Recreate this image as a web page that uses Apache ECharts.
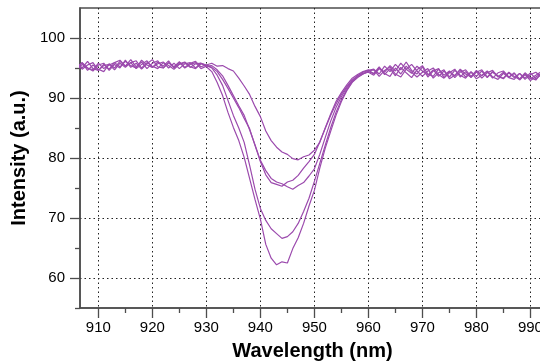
<!DOCTYPE html>
<html>
<head>
<meta charset="utf-8">
<script src="https://cdn.jsdelivr.net/npm/echarts@6/dist/echarts.min.js"></script>
<style>html,body{margin:0;padding:0;background:#fff;}#c{width:540px;height:362px;}</style>
</head>
<body>
<div id="c"></div>
<script>
const wavelength = [906,907,908,909,910,911,912,913,914,915,916,917,918,919,920,921,922,923,924,925,926,927,928,929,
930,931,932,933,934,935,936,937,938,939,940,941,942,943,944,945,946,947,948,949,950,951,952,953,954,955,956,957,958,959,960,
961,962,963,964,965,966,967,968,969,970,971,972,973,974,975,976,977,978,979,980,981,982,983,984,985,986,987,988,989,990,991,992];

const spectrumA = [95.9,95.0,96.1,94.9,94.6,95.6,94.8,95.9,96.3,95.3,96.4,95.2,96.0,94.9,95.8,96.2,95.0,95.9,95.2,96.0,95.1,95.8,96.1,95.2,
95.5,95.8,95.3,95.4,94.9,94.5,93.3,92.0,90.6,88.6,86.9,84.5,82.9,81.8,81.0,80.6,79.9,79.7,80.2,80.5,81.3,82.6,85.0,87.3,89.4,90.9,92.2,93.3,93.9,94.4,94.7,
94.0,95.0,94.3,95.4,94.5,95.8,94.8,94.1,95.3,94.5,93.8,94.7,93.6,94.5,93.5,94.6,93.8,93.3,94.4,93.6,94.5,93.4,94.3,93.6,93.2,94.2,93.4,94.1,93.1,93.9,94.3,93.5];

const spectrumB = [95.0,95.9,94.6,95.5,94.8,94.4,95.7,95.0,96.1,95.3,95.9,94.9,95.6,96.2,95.1,95.7,96.0,95.0,95.8,94.9,95.7,95.9,95.0,95.8,
95.4,95.1,94.4,93.1,91.6,90.0,88.4,86.6,84.9,82.1,79.4,77.2,75.9,75.6,75.3,76.0,76.3,77.1,78.3,79.4,80.6,82.7,84.9,87.1,89.0,90.6,91.9,93.0,93.7,94.3,94.6,
94.8,94.0,95.3,94.4,95.6,94.7,96.0,94.6,94.0,95.2,93.5,94.5,94.9,93.4,94.4,93.7,94.8,94.0,93.5,94.6,93.7,94.4,93.3,94.2,94.5,93.5,94.1,93.2,94.2,93.4,93.0,94.1];

const spectrumC = [94.6,95.6,95.0,94.5,95.5,95.8,94.6,95.6,95.0,96.3,95.1,95.8,94.8,95.7,96.4,95.2,95.0,95.9,95.1,96.0,95.0,95.6,95.9,94.9,
95.3,95.4,94.7,93.7,92.1,90.4,88.7,87.1,84.7,82.2,79.6,77.9,76.6,76.0,75.7,75.2,74.8,75.4,75.9,77.0,78.2,80.6,83.4,86.1,88.4,90.2,91.7,92.8,93.7,94.1,94.3,
93.8,94.9,94.1,93.6,95.0,94.0,95.3,94.3,93.5,94.3,94.9,93.3,94.2,94.7,93.2,93.8,94.6,93.5,94.3,93.2,93.8,94.5,93.5,93.1,94.1,93.4,94.2,93.0,93.9,92.9,93.5,94.1];

const spectrumD = [95.7,94.8,95.5,95.9,94.6,95.4,95.6,94.7,95.8,95.1,95.9,96.2,95.0,95.9,95.3,94.9,95.9,95.4,94.8,95.6,95.9,95.1,95.7,95.8,
95.5,95.0,93.8,92.1,89.6,87.1,85.0,82.6,78.8,74.8,71.6,69.6,68.2,67.4,66.6,66.9,67.7,69.1,71.1,73.3,76.1,79.1,82.1,85.0,87.6,89.7,91.4,92.7,93.5,94.0,94.5,
94.7,93.6,94.6,95.2,94.0,93.5,94.8,95.6,94.5,93.6,94.5,95.0,93.9,93.3,94.2,94.8,93.5,94.4,93.4,94.3,94.7,93.5,94.4,93.7,93.3,94.3,93.6,93.1,94.0,93.2,93.8,94.4];

const spectrumE = [95.1,95.9,95.0,94.7,95.8,94.9,95.5,95.9,95.2,96.1,95.4,95.0,96.3,95.5,95.1,96.0,95.3,96.2,95.0,95.7,96.0,95.2,94.9,95.7,
95.2,94.4,92.6,90.4,87.6,85.1,82.9,80.1,76.6,73.1,69.8,65.6,63.3,62.2,62.7,62.5,64.9,66.7,69.1,72.0,74.6,78.3,81.6,84.4,87.1,89.4,91.2,92.6,93.4,94.0,94.4,
94.1,95.2,93.9,94.9,93.7,95.1,94.2,93.4,94.7,95.4,94.0,93.6,94.8,93.8,94.5,93.4,94.3,94.7,93.6,94.4,93.3,94.2,94.6,93.5,94.3,93.4,93.1,94.1,93.3,94.2,93.2,93.9];

const xMajorTicks = [910,920,930,940,950,960,970,980,990];
const xMinorTicks = [915,925,935,945,955,965,975,985];
const yMajorTicks = [60,70,80,90,100];
const yMinorTicks = [55,65,75,85,95];

const spectra = [spectrumA, spectrumB, spectrumC, spectrumD, spectrumE];

const X_MIN = 906.6, X_MAX = 992.7, Y_MIN = 55, Y_MAX = 105;
const axisCol = '#4d4d4d';
const lineCol = '#9b4aad';
const font = '"Liberation Sans", Arial, Helvetica, sans-serif';

const chart = echarts.init(document.getElementById('c'), null, {renderer: 'canvas'});
chart.setOption({
  animation: false,
  backgroundColor: '#fff',
  grid: {left: 80, top: 8, right: -5, bottom: 54, containLabel: false, outerBoundsMode: 'none',
         show: true, borderColor: axisCol, borderWidth: 1.5, backgroundColor: 'transparent'},
  xAxis: [{
    type: 'value', min: X_MIN, max: X_MAX, position: 'bottom',
    name: 'Wavelength (nm)', nameLocation: 'middle', nameGap: 33,
    nameTextStyle: {fontFamily: font, fontWeight: 'bold', fontSize: 20, color: '#000'},
    axisLine: {show: true, lineStyle: {color: axisCol, width: 1.5}},
    axisTick: {show: true, inside: false, length: 10, customValues: xMajorTicks, lineStyle: {color: axisCol, width: 1.3}},
    axisLabel: {show: true, customValues: xMajorTicks, margin: 12, fontFamily: font, fontSize: 15, color: '#000'},
    splitLine: {show: true, lineStyle: {color: '#222', width: 1, type: [1.5, 3]}}
  }, {
    type: 'value', min: X_MIN, max: X_MAX, position: 'bottom', gridIndex: 0,
    axisLine: {show: false},
    axisTick: {show: true, length: 5, customValues: xMinorTicks, lineStyle: {color: axisCol, width: 1.3}},
    axisLabel: {show: false},
    splitLine: {show: false}
  }],
  yAxis: [{
    type: 'value', min: Y_MIN, max: Y_MAX, position: 'left',
    name: 'Intensity (a.u.)', nameLocation: 'middle', nameGap: 46,
    nameTextStyle: {fontFamily: font, fontWeight: 'bold', fontSize: 20, color: '#000'},
    axisLine: {show: true, lineStyle: {color: axisCol, width: 1.5}},
    axisTick: {show: true, length: 10, customValues: yMajorTicks, lineStyle: {color: axisCol, width: 1.3}},
    axisLabel: {show: true, customValues: yMajorTicks, margin: 15, fontFamily: font, fontSize: 15, color: '#000'},
    splitLine: {show: true, lineStyle: {color: '#222', width: 1, type: [1.5, 3]}}
  }, {
    type: 'value', min: Y_MIN, max: Y_MAX, position: 'left', gridIndex: 0,
    axisLine: {show: false},
    axisTick: {show: true, length: 5, customValues: yMinorTicks, lineStyle: {color: axisCol, width: 1.3}},
    axisLabel: {show: false},
    splitLine: {show: false}
  }],
  series: spectra.map(function (s) {
    return {
      type: 'line', xAxisIndex: 0, yAxisIndex: 0, showSymbol: false, symbol: 'none',
      clip: true,
      lineStyle: {color: lineCol, width: 1.2},
      data: wavelength.map(function (w, k) { return [w, s[k]]; })
    };
  })
});
</script>
</body>
</html>
